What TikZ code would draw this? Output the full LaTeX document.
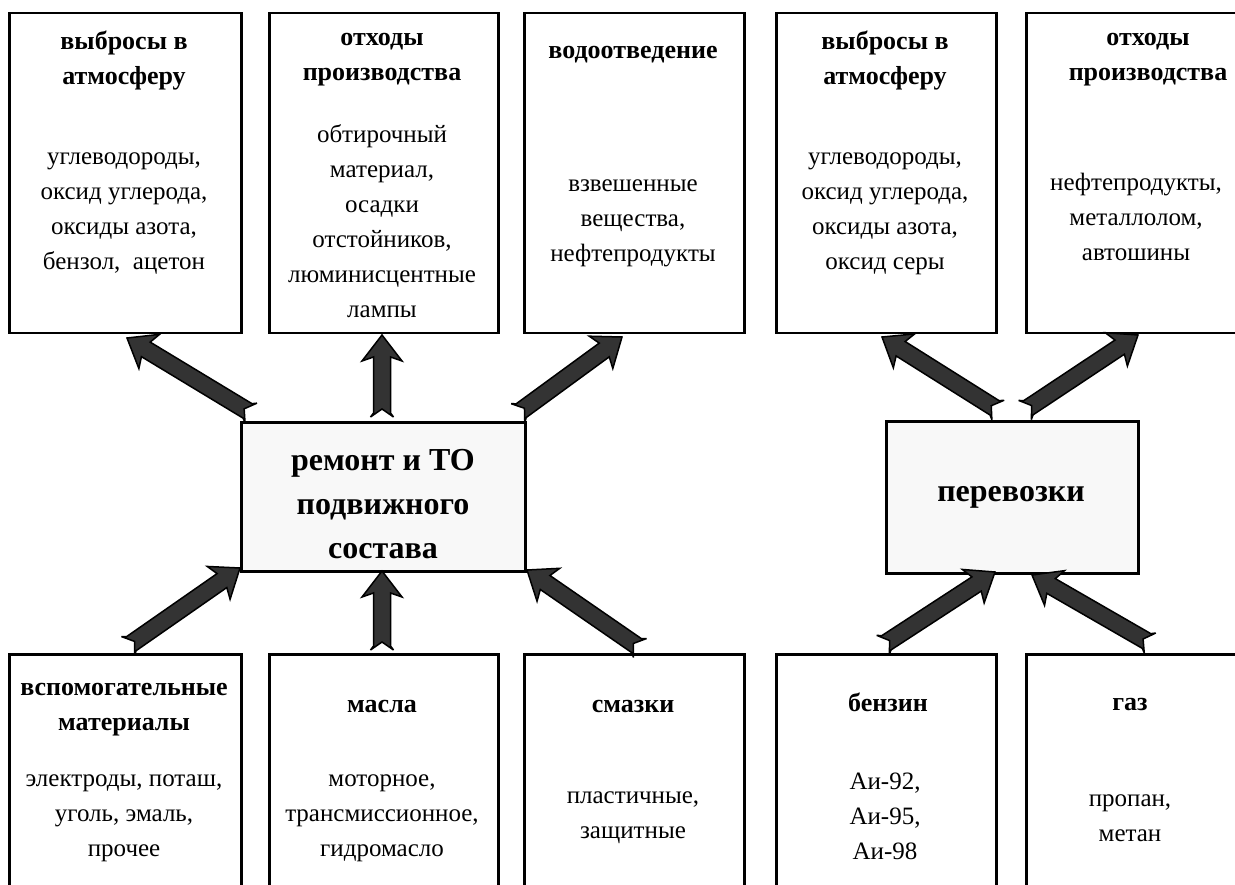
\documentclass[tikz,border=0pt]{standalone}
\usepackage{fontspec}
\setmainfont{Liberation Serif}
\usetikzlibrary{calc}
\definecolor{arrowfill}{HTML}{333333}
\definecolor{centerfill}{HTML}{F8F8F8}
\tikzset{
  box/.style={draw=black, line width=2.5pt, fill=white, anchor=north west, inner sep=0pt},
  cbox/.style={box, fill=centerfill},
  head/.style={font=\fontsize{26}{35}\selectfont\bfseries, align=center, inner sep=0pt},
  body/.style={font=\fontsize{25}{35}\selectfont, align=center, inner sep=0pt},
  big/.style={font=\fontsize{32}{44}\selectfont\bfseries, align=center, inner sep=0pt},
  blockarrow/.style={draw=black, fill=arrowfill, line width=1.5pt, line join=miter, miter limit=4},
}
\newcommand{\blockarrow}[2]{%
  \path[blockarrow] let \p1=(#1), \p2=(#2), \n1={atan2(\y2-\y1,\x2-\x1)} in
    ($(\p1)+({\n1+90}:11.5pt)$) -- ($(\p1)+({\n1}:8pt)$) -- ($(\p1)+({\n1-90}:11.5pt)$)
    -- ($(\p1)+({\n1}:4pt)+({\n1-90}:8.5pt)$)
    -- ($(\p2)+({\n1+180}:22pt)+({\n1-90}:8.5pt)$)
    -- ($(\p2)+({\n1+180}:26pt)+({\n1-90}:20pt)$)
    -- (\p2)
    -- ($(\p2)+({\n1+180}:26pt)+({\n1+90}:20pt)$)
    -- ($(\p2)+({\n1+180}:22pt)+({\n1+90}:8.5pt)$)
    -- ($(\p1)+({\n1}:4pt)+({\n1+90}:8.5pt)$)
    -- cycle;
}
\begin{document}
\begin{tikzpicture}[x=1pt,y=-1pt]
\useasboundingbox (0,0) rectangle (1235,885);
\clip (0,0) rectangle (1235,885);
\fill[white] (0,0) rectangle (1235,885);
% top boxes
\node[box, minimum width=232pt, minimum height=320pt] (t1) at (8,12) {};
\node[box, minimum width=229pt, minimum height=320pt] (t2) at (268,12) {};
\node[box, minimum width=220pt, minimum height=320pt] (t3) at (523,12) {};
\node[box, minimum width=220pt, minimum height=320pt] (t4) at (775,12) {};
\node[box, minimum width=240pt, minimum height=320pt] (t5) at (1025,12) {};
% centre boxes
\node[cbox, minimum width=284pt, minimum height=149pt] (c1) at (240,421) {};
\node[cbox, minimum width=252pt, minimum height=152pt] (c2) at (885,420) {};
% bottom boxes
\node[box, minimum width=232pt, minimum height=260pt] (b1) at (8,653) {};
\node[box, minimum width=229pt, minimum height=260pt] (b2) at (268,653) {};
\node[box, minimum width=220pt, minimum height=260pt] (b3) at (523,653) {};
\node[box, minimum width=220pt, minimum height=260pt] (b4) at (775,653) {};
\node[box, minimum width=240pt, minimum height=260pt] (b5) at (1025,653) {};
% texts top
\node[head] (t1h) at (124,61) {выбросы в\\атмосферу};
\node[body] (t1b) at (124,214) {углеводороды,\\оксид углерода,\\оксиды азота,\\бензол,\ \ ацетон};
\node[head] (t2h) at (382,60) {отходы\\производства};
\node[body] (t2b) at (382,221) {обтирочный\\материал,\\осадки\\отстойников,\\люминисцентные\\лампы};
\node[head] (t3h) at (633,55) {водоотведение};
\node[body] (t3b) at (633,223) {взвешенные\\вещества,\\нефтепродукты};
\node[head] (t4h) at (885,61) {выбросы в\\атмосферу};
\node[body] (t4b) at (885,214) {углеводороды,\\оксид углерода,\\оксиды азота,\\оксид серы};
\node[head] (t5h) at (1148,60) {отходы\\производства};
\node[body] (t5b) at (1136,217) {нефтепродукты,\\металлолом,\\автошины};
% centre texts
\node[big] (c1t) at (383,504) {ремонт и ТО\\подвижного\\состава};
\node[big] (c2t) at (1011,497) {перевозки};
% bottom texts
\node[head] (b1h) at (124,710) {вспомогательные\\материалы};
\node[body] (b1b) at (124,818) {электроды, поташ,\\уголь, эмаль,\\прочее};
\node[head] (b2h) at (382,706) {масла};
\node[body] (b2b) at (382,818) {моторное,\\трансмиссионное,\\гидромасло};
\node[head] (b3h) at (633,706) {смазки};
\node[body] (b3b) at (633,818) {пластичные,\\защитные};
\node[head] (b4h) at (888,702) {бензин};
\node[body] (b4b) at (885,816) {Аи-92,\\Аи-95,\\Аи-98};
\node[head] (b5h) at (1130,704) {газ};
\node[body] (b5b) at (1130,818) {пропан,\\метан};
% arrow end points
\coordinate (a1s) at (251,413); \coordinate (a1e) at (127,338);
\coordinate (a2s) at (382,417); \coordinate (a2e) at (382,335);
\coordinate (a3s) at (518,413); \coordinate (a3e) at (622,337);
\coordinate (a4s) at (128,646); \coordinate (a4e) at (240,568);
\coordinate (a5s) at (382,650); \coordinate (a5e) at (382,571);
\coordinate (a6s) at (640,648); \coordinate (a6e) at (527,570);
\coordinate (a7s) at (998,410); \coordinate (a7e) at (882,337);
\coordinate (a8s) at (1025,410); \coordinate (a8e) at (1138,335);
\coordinate (a9s) at (883,645); \coordinate (a9e) at (995,572);
\coordinate (a10s) at (1150,643); \coordinate (a10e) at (1032,575);
\blockarrow{a1s}{a1e}
\blockarrow{a2s}{a2e}
\blockarrow{a3s}{a3e}
\blockarrow{a4s}{a4e}
\blockarrow{a5s}{a5e}
\blockarrow{a6s}{a6e}
\blockarrow{a7s}{a7e}
\blockarrow{a8s}{a8e}
\blockarrow{a9s}{a9e}
\blockarrow{a10s}{a10e}
\end{tikzpicture}
\end{document}
